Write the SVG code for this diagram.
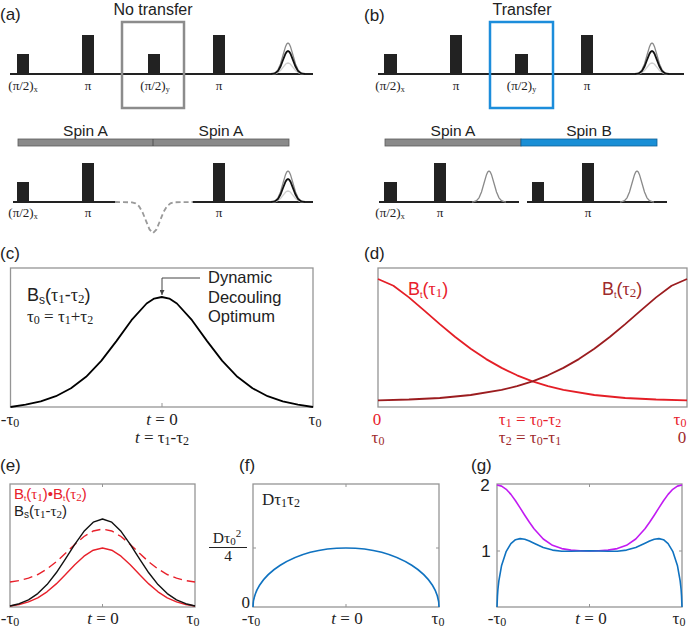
<svg xmlns="http://www.w3.org/2000/svg" xmlns:xlink="http://www.w3.org/1999/xlink" width="689" height="632" viewBox="0 0 689 632">
<style>
.sans{font-family:"Liberation Sans",Arial,sans-serif}
.serif{font-family:"Liberation Serif","Times New Roman",serif}
.plab{font-family:"Liberation Serif","Times New Roman",serif;font-size:13px;fill:#222;text-anchor:middle}
.panel{font-family:"Liberation Sans",Arial,sans-serif;font-size:17px;fill:#222}
.base{stroke:#222;stroke-width:2;fill:none}
.pulse{fill:#222}
.frame{fill:none;stroke:#959595;stroke-width:1.3}
.tick{stroke:#959595;stroke-width:1}
.eg{fill:none;stroke:#8a8a8a;stroke-width:1.3}
.ek{fill:none;stroke:#111;stroke-width:1.8}
.el{fill:none;stroke:#cfcfcf;stroke-width:1.3}
.ax{font-family:"Liberation Serif","Times New Roman",serif;font-size:17px;fill:#222;text-anchor:middle}
.red{fill:#e8212b}
.dred{fill:#9e2a2b}
</style>
<defs>
<path id="eG" d="M-17,0 L-15,-0.34 L-12.5,-1.36 L-10,-4.19 L-7.5,-10.07 L-5,-18.8 L-2.5,-27.36 L-1.25,-30.05 L0,-31 L1.25,-30.05 L2.5,-27.36 L5,-18.8 L7.5,-10.07 L10,-4.19 L12.5,-1.36 L15,-0.34 L17,0"/>
<path id="eK" d="M-17,0 L-15,-0.26 L-12.5,-1.01 L-10,-3.11 L-7.5,-7.47 L-5,-13.95 L-2.5,-20.3 L-1.25,-22.29 L0,-23 L1.25,-22.29 L2.5,-20.3 L5,-13.95 L7.5,-7.47 L10,-3.11 L12.5,-1.01 L15,-0.26 L17,0"/>
<path id="eL" d="M-17,0 L-15,-0.12 L-12.5,-0.48 L-10,-1.49 L-7.5,-3.57 L-5,-6.67 L-2.5,-9.71 L-1.25,-10.66 L0,-11 L1.25,-10.66 L2.5,-9.71 L5,-6.67 L7.5,-3.57 L10,-1.49 L12.5,-0.48 L15,-0.12 L17,0"/>
<marker id="arr" viewBox="0 0 10 10" refX="10" refY="5" markerWidth="5" markerHeight="5" orient="auto"><path d="M0,0 L10,5 L0,10 z" fill="#444"/></marker>
</defs>
<rect width="689" height="632" fill="#fff"/>

<!-- Panel (a) -->
<g id="panel-a">
<text class="panel" x="0" y="20">(a)</text>
<text class="sans" x="153" y="14.5" font-size="16" text-anchor="middle" fill="#222">No transfer</text>
<path class="base" d="M10,74 H313"/>
<rect class="pulse" x="17" y="54" width="12" height="20"/>
<rect class="pulse" x="82" y="35" width="12" height="39"/>
<rect class="pulse" x="148" y="54" width="12" height="20"/>
<rect class="pulse" x="213" y="35" width="12" height="39"/>
<use xlink:href="#eL" href="#eL" class="el" transform="translate(288,74)"/>
<use xlink:href="#eG" href="#eG" class="eg" transform="translate(288,74)"/>
<use xlink:href="#eK" href="#eK" class="ek" transform="translate(288,74)"/>
<rect x="122" y="22" width="62" height="86" fill="none" stroke="#8c8c8c" stroke-width="2.5"/>
<text class="plab" x="23" y="90">(π/2)<tspan font-size="8" dy="2">x</tspan></text>
<text class="plab" x="88" y="90">π</text>
<text class="plab" x="155" y="90">(π/2)<tspan font-size="8" dy="2">y</tspan></text>
<text class="plab" x="219" y="90">π</text>

<rect x="18" y="139" width="271" height="7" fill="#8a8a8a" stroke="#5a5a5a" stroke-width="0.8"/>
<line x1="153" y1="139" x2="153" y2="146" stroke="#444" stroke-width="0.8"/>
<text class="sans" x="85.5" y="135.5" font-size="15.5" text-anchor="middle" fill="#222">Spin A</text>
<text class="sans" x="221" y="135.5" font-size="15.5" text-anchor="middle" fill="#222">Spin A</text>

<path class="base" d="M13,202 H115 M193,202 H313"/>
<rect class="pulse" x="17" y="182" width="12" height="20"/>
<rect class="pulse" x="82" y="163" width="12" height="39"/>
<rect class="pulse" x="213" y="163" width="12" height="39"/>
<path d="M115,202 L132,202.3 L135.5,203.4 L139,206.2 L142.5,212.1 L146,220.8 L149.5,229.4 L153,233 L156.5,229.4 L160,220.8 L163.5,212.1 L167,206.2 L170.5,203.4 L174,202.3 L193,202" fill="none" stroke="#9a9a9a" stroke-width="1.8" stroke-dasharray="5,3"/>
<use xlink:href="#eL" href="#eL" class="el" transform="translate(288,202)"/>
<use xlink:href="#eG" href="#eG" class="eg" transform="translate(288,202)"/>
<use xlink:href="#eK" href="#eK" class="ek" transform="translate(288,202)"/>
<text class="plab" x="23" y="217">(π/2)<tspan font-size="8" dy="2">x</tspan></text>
<text class="plab" x="88" y="217">π</text>
<text class="plab" x="219" y="217">π</text>
</g>

<!-- Panel (b) -->
<g id="panel-b">
<text class="panel" x="364" y="21">(b)</text>
<text class="sans" x="522" y="14.5" font-size="16" text-anchor="middle" fill="#222">Transfer</text>
<path class="base" d="M378,74 H684"/>
<rect class="pulse" x="384" y="54" width="13" height="20"/>
<rect class="pulse" x="450" y="35" width="12" height="39"/>
<rect class="pulse" x="515" y="54" width="13" height="20"/>
<rect class="pulse" x="581" y="35" width="12" height="39"/>
<use xlink:href="#eL" href="#eL" class="el" transform="translate(652,74)"/>
<use xlink:href="#eG" href="#eG" class="eg" transform="translate(652,74)"/>
<use xlink:href="#eK" href="#eK" class="ek" transform="translate(652,74)"/>
<rect x="490" y="22" width="63" height="86" fill="none" stroke="#1c8ddb" stroke-width="2.5"/>
<text class="plab" x="390" y="90">(π/2)<tspan font-size="8" dy="2">x</tspan></text>
<text class="plab" x="456" y="90">π</text>
<text class="plab" x="521.5" y="90">(π/2)<tspan font-size="8" dy="2">y</tspan></text>
<text class="plab" x="587" y="90">π</text>

<rect x="385" y="139" width="136" height="7" fill="#8a8a8a" stroke="#5a5a5a" stroke-width="0.8"/>
<rect x="521" y="139" width="136" height="7" fill="#1a8fd6" stroke="#0f5f96" stroke-width="0.8"/>
<text class="sans" x="453" y="135.5" font-size="15.5" text-anchor="middle" fill="#222">Spin A</text>
<text class="sans" x="589" y="135.5" font-size="15.5" text-anchor="middle" fill="#222">Spin B</text>

<path class="base" d="M379,202 H519 M527,202 H667"/>
<rect class="pulse" x="384" y="182" width="13" height="20"/>
<rect class="pulse" x="434" y="163" width="12" height="39"/>
<rect class="pulse" x="532" y="182" width="12" height="20"/>
<rect class="pulse" x="582" y="163" width="12" height="39"/>
<use xlink:href="#eG" href="#eG" class="eg" transform="translate(489,202)"/>
<use xlink:href="#eG" href="#eG" class="eg" transform="translate(637,202)"/>
<text class="plab" x="390" y="217">(π/2)<tspan font-size="8" dy="2">x</tspan></text>
<text class="plab" x="440" y="217">π</text>
<text class="plab" x="588" y="217">π</text>
</g>

<!-- Panel (c) -->
<g id="panel-c">
<text class="panel" x="0" y="259">(c)</text>
<rect class="frame" x="10.5" y="268" width="302.5" height="139"/>
<line class="tick" x1="162" y1="407" x2="162" y2="403"/>
<path d="M10.5,407 L25.6,404.7 L40.75,401.4 L55.9,396.2 L71,388.3 L86.1,376.8 L101.25,360.9 L116.4,341.1 L131.5,320.2 L146.6,303.5 L154.2,298.6 L161.75,297 L169.3,298.6 L176.9,303.5 L192,320.2 L207.1,341.1 L222.25,360.9 L237.4,376.8 L252.5,388.3 L267.6,396.2 L282.75,401.4 L297.9,404.7 L313,407" fill="none" stroke="#000" stroke-width="1.8" stroke-linejoin="round"/>
<text class="sans" x="27" y="301" font-size="18" fill="#222">B<tspan font-size="12" dy="3">s</tspan><tspan dy="-3">(</tspan><tspan class="serif">τ</tspan><tspan class="serif" font-size="13" dy="2">1</tspan><tspan dy="-2">-</tspan><tspan class="serif">τ</tspan><tspan class="serif" font-size="13" dy="2">2</tspan><tspan dy="-2">)</tspan></text>
<text class="serif" x="27" y="322" font-size="17" fill="#222">τ<tspan font-size="12" dy="2">0</tspan><tspan dy="-2"> = τ</tspan><tspan font-size="12" dy="2">1</tspan><tspan dy="-2">+τ</tspan><tspan font-size="12" dy="2">2</tspan></text>
<text class="sans" font-size="16.5" fill="#222"><tspan x="208" y="283">Dynamic</tspan><tspan x="208" y="302.5">Decouling</tspan><tspan x="208" y="322">Optimum</tspan></text>
<text class="ax" x="10" y="425">-τ<tspan font-size="12" dy="2">0</tspan></text>
<text class="ax" x="162" y="425"><tspan font-style="italic">t</tspan> = 0</text>
<text class="ax" x="315" y="425">τ<tspan font-size="12" dy="2">0</tspan></text>
<text class="ax" x="162" y="443"><tspan font-style="italic">t</tspan> = τ<tspan font-size="12" dy="2">1</tspan><tspan dy="-2">-τ</tspan><tspan font-size="12" dy="2">2</tspan></text>
</g>

<!-- Panel (d) -->
<g id="panel-d">
<text class="panel" x="364" y="259">(d)</text>
<rect class="frame" x="378" y="268" width="309" height="139"/>
<path d="M378,279 L393.45,285.8 L408.9,297.4 L424.35,310.6 L439.8,324.1 L455.25,337 L470.7,348.7 L486.15,359.1 L501.6,367.9 L517.05,375.3 L532.5,381.3 L547.95,386.1 L563.4,389.9 L594.3,395 L625.2,398 L656.1,399.5 L687,400.3" fill="none" stroke="#e41e26" stroke-width="1.8" stroke-linejoin="round"/>
<path d="M687,279 L671.55,285.8 L656.1,297.4 L640.65,310.6 L625.2,324.1 L609.75,337 L594.3,348.7 L578.85,359.1 L563.4,367.9 L547.95,375.3 L532.5,381.3 L517.05,386.1 L501.6,389.9 L470.7,395 L439.8,398 L408.9,399.5 L378,400.3" fill="none" stroke="#9b1c1f" stroke-width="1.8" stroke-linejoin="round"/>
<text class="sans red" x="408" y="295" font-size="18">B<tspan font-size="9" dy="3">t</tspan><tspan dy="-3">(</tspan><tspan class="serif">τ</tspan><tspan class="serif" font-size="13" dy="2">1</tspan><tspan dy="-2">)</tspan></text>
<text class="sans dred" x="602" y="295" font-size="18">B<tspan font-size="9" dy="3">t</tspan><tspan dy="-3">(</tspan><tspan class="serif">τ</tspan><tspan class="serif" font-size="13" dy="2">2</tspan><tspan dy="-2">)</tspan></text>
<text class="ax red" x="377" y="425">0</text>
<text class="ax red" x="530" y="425">τ<tspan font-size="12" dy="2">1</tspan><tspan dy="-2"> = τ</tspan><tspan font-size="12" dy="2">0</tspan><tspan dy="-2">-τ</tspan><tspan font-size="12" dy="2">2</tspan></text>
<text class="ax red" x="680" y="425">τ<tspan font-size="12" dy="1.5">0</tspan></text>
<text class="ax dred" x="378" y="443">τ<tspan font-size="12" dy="2">0</tspan></text>
<text class="ax dred" x="530" y="443">τ<tspan font-size="12" dy="2">2</tspan><tspan dy="-2"> = τ</tspan><tspan font-size="12" dy="2">0</tspan><tspan dy="-2">-τ</tspan><tspan font-size="12" dy="2">1</tspan></text>
<text class="ax dred" x="682" y="443">0</text>
</g>

<!-- Panel (e) -->
<g id="panel-e">
<text class="panel" x="0" y="471">(e)</text>
<rect class="frame" x="10" y="484" width="185" height="123"/>
<line class="tick" x1="102.5" y1="484" x2="102.5" y2="487"/>
<line class="tick" x1="102.5" y1="607" x2="102.5" y2="604"/>
<path d="M10,582 L19.25,580.6 L28.5,578.2 L37.75,574.5 L47,569 L56.25,561.8 L65.5,553.3 L74.75,544.4 L84,536.5 L93.25,531 L102.5,529 L111.75,531 L121,536.5 L130.25,544.4 L139.5,553.3 L148.75,561.8 L158,569 L167.25,574.5 L176.5,578.2 L185.75,580.6 L195,582" fill="none" stroke="#e8212b" stroke-width="1.4" stroke-dasharray="9,5"/>
<path d="M10,606 L19.25,604.5 L28.5,601.9 L37.75,597.8 L47,591.8 L56.25,583.9 L65.5,574.6 L74.75,564.8 L84,556.2 L93.25,550.2 L102.5,548 L111.75,550.2 L121,556.2 L130.25,564.8 L139.5,574.6 L148.75,583.9 L158,591.8 L167.25,597.8 L176.5,601.9 L185.75,604.5 L195,606" fill="none" stroke="#e8212b" stroke-width="1.4" stroke-linejoin="round"/>
<path d="M10,606 L19.25,603.7 L28.5,599.8 L37.75,593.6 L47,584.6 L56.25,572.8 L65.5,558.8 L74.75,544.3 L84,531.3 L93.25,522.2 L102.5,519 L111.75,522.2 L121,531.3 L130.25,544.3 L139.5,558.8 L148.75,572.8 L158,584.6 L167.25,593.6 L176.5,599.8 L185.75,603.7 L195,606" fill="none" stroke="#111" stroke-width="1.4" stroke-linejoin="round"/>
<text class="sans red" x="14" y="499" font-size="15">B<tspan font-size="8" dy="2">t</tspan><tspan dy="-2">(</tspan><tspan class="serif">τ</tspan><tspan class="serif" font-size="11" dy="1.5">1</tspan><tspan dy="-1.5">)•B</tspan><tspan font-size="8" dy="2">t</tspan><tspan dy="-2">(</tspan><tspan class="serif">τ</tspan><tspan class="serif" font-size="11" dy="1.5">2</tspan><tspan dy="-1.5">)</tspan></text>
<text class="sans" x="14" y="516" font-size="15" fill="#222">B<tspan font-size="10" dy="2">s</tspan><tspan dy="-2">(</tspan><tspan class="serif">τ</tspan><tspan class="serif" font-size="11" dy="1.5">1</tspan><tspan dy="-1.5">-</tspan><tspan class="serif">τ</tspan><tspan class="serif" font-size="11" dy="1.5">2</tspan><tspan dy="-1.5">)</tspan></text>
<text class="ax" x="10" y="624">-τ<tspan font-size="12" dy="2">0</tspan></text>
<text class="ax" x="103" y="624"><tspan font-style="italic">t</tspan> = 0</text>
<text class="ax" x="193" y="624">τ<tspan font-size="12" dy="2">0</tspan></text>
</g>

<!-- Panel (f) -->
<g id="panel-f">
<text class="panel" x="239" y="471">(f)</text>
<rect class="frame" x="253" y="484" width="186" height="123"/>
<line class="tick" x1="346" y1="484" x2="346" y2="487"/>
<line class="tick" x1="346" y1="607" x2="346" y2="604"/>
<line class="tick" x1="253" y1="548" x2="256" y2="548"/>
<line class="tick" x1="439" y1="548" x2="436" y2="548"/>
<path d="M253,607 A93,59 0 0 1 439,607" fill="none" stroke="#0f72c0" stroke-width="1.6"/>
<text class="serif" x="262" y="505" font-size="17" fill="#222">Dτ<tspan font-size="12" dy="2">1</tspan><tspan dy="-2">τ</tspan><tspan font-size="12" dy="2">2</tspan></text>
<text class="serif" x="227" y="543" font-size="15.5" fill="#222" text-anchor="middle">Dτ<tspan font-size="11" dy="2">0</tspan><tspan font-size="11" dy="-8">2</tspan></text>
<line x1="209" y1="547.5" x2="247" y2="547.5" stroke="#222" stroke-width="1"/>
<text class="serif" x="228" y="561" font-size="15.5" fill="#222" text-anchor="middle">4</text>
<text class="serif" x="250" y="608" font-size="17" fill="#222" text-anchor="end">0</text>
<text class="ax" x="251" y="624">-τ<tspan font-size="12" dy="2">0</tspan></text>
<text class="ax" x="347" y="624"><tspan font-style="italic">t</tspan> = 0</text>
<text class="ax" x="438" y="624">τ<tspan font-size="12" dy="2">0</tspan></text>
</g>

<!-- Panel (g) -->
<g id="panel-g">
<text class="panel" x="471" y="471">(g)</text>
<rect class="frame" x="497" y="484" width="185" height="123"/>
<line class="tick" x1="589.5" y1="484" x2="589.5" y2="487"/>
<line class="tick" x1="589.5" y1="607" x2="589.5" y2="604"/>
<line class="tick" x1="497" y1="551" x2="500" y2="551"/>
<line class="tick" x1="682" y1="551" x2="679" y2="551"/>
<path d="M497,485 L501.6,486.1 L506.25,489.3 L510.9,494.4 L515.5,500.7 L520.1,507.9 L524.75,515.2 L529.4,522.3 L534,528.8 L543.25,539 L552.5,545.3 L561.75,548.6 L571,550.1 L580.25,550.7 L589.5,550.9 L598.75,550.7 L608,550.1 L617.25,548.6 L626.5,545.3 L635.75,539 L645,528.8 L649.6,522.3 L654.25,515.2 L658.9,507.9 L663.5,500.7 L668.1,494.4 L672.75,489.3 L677.4,486.1 L682,485" fill="none" stroke="#c21bf2" stroke-width="1.6" stroke-linejoin="round"/>
<path d="M497,607 L497.46,596 L497.9,589.5 L498.85,580.8 L501.6,565.4 L506.25,551.3 L510.9,543.6 L515.5,539.7 L520.1,538.6 L524.75,539.2 L529.4,541 L534,543.2 L543.25,547.4 L552.5,550.1 L561.75,551.2 L571,551.2 L580.25,551 L589.5,550.9 L598.75,551 L608,551.2 L617.25,551.2 L626.5,550.1 L635.75,547.4 L645,543.2 L649.6,541 L654.25,539.2 L658.9,538.6 L663.5,539.7 L668.1,543.6 L672.75,551.3 L677.4,565.4 L680.15,580.8 L681.1,589.5 L681.54,596 L682,607" fill="none" stroke="#0f72c0" stroke-width="1.6" stroke-linejoin="round"/>
<text class="sans" x="485" y="491" font-size="17" fill="#222" text-anchor="middle">2</text>
<text class="sans" x="486" y="557" font-size="17" fill="#222" text-anchor="middle">1</text>
<text class="ax" x="497" y="624">-τ<tspan font-size="12" dy="2">0</tspan></text>
<text class="ax" x="591" y="624"><tspan font-style="italic">t</tspan> = 0</text>
<text class="ax" x="679" y="624">τ<tspan font-size="12" dy="2">0</tspan></text>
</g>

<g id="connectors">
<path d="M200,278 H162 V295" fill="none" stroke="#444" stroke-width="1" marker-end="url(#arr)"/>
</g>
</svg>
